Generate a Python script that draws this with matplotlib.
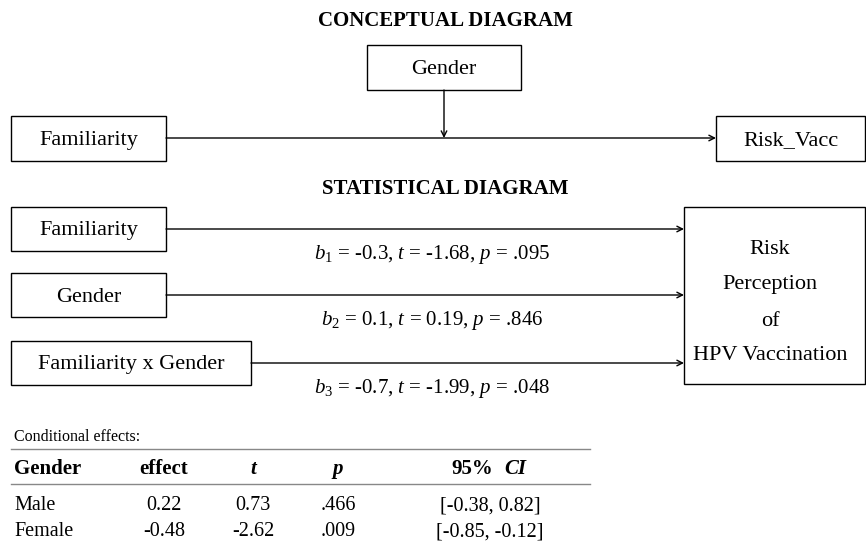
import matplotlib.pyplot as plt
from matplotlib.patches import Rectangle

plt.rcParams['font.family'] = ['Liberation Serif', 'DejaVu Serif']
plt.rcParams['mathtext.fontset'] = 'custom'
plt.rcParams['mathtext.rm'] = 'Liberation Serif'
plt.rcParams['mathtext.it'] = 'Liberation Serif:italic'
plt.rcParams['mathtext.bf'] = 'Liberation Serif:bold'

# path coefficients (statistical diagram)
predictors = ['Familiarity', 'Gender', 'Familiarity x Gender']
coef_b = ['-0.3', '0.1', '-0.7']
coef_t = ['-1.68', '0.19', '-1.99']
coef_p = ['.095', '.846', '.048']

# conditional effects table
cond_header = ['Gender', 'effect', 't', 'p', '95%', 'CI']
cond_group = ['Male', 'Female']
cond_effect = ['0.22', '-0.48']
cond_t = ['0.73', '-2.62']
cond_p = ['.466', '.009']
cond_ci = ['[-0.38, 0.82]', '[-0.85, -0.12]']

fig = plt.figure(figsize=(8.66, 5.42), dpi=100)
ax = fig.add_axes([0, 0, 1, 1])
ax.set_xlim(0, 866)
ax.set_ylim(542, 0)
ax.axis('off')

FS = 16
DY = 2  # small baseline nudge so text sits centred like the original


def box(x0, y0, x1, y1, label=None):
    ax.add_patch(Rectangle((x0, y0), x1 - x0, y1 - y0, fill=False, lw=1.0, ec='black'))
    if label:
        ax.text((x0 + x1) / 2, (y0 + y1) / 2 + DY, label, ha='center', va='center', fontsize=FS)


def arrow(x0, y0, x1, y1):
    ax.annotate('', xy=(x1, y1), xytext=(x0, y0),
                arrowprops=dict(arrowstyle='->', lw=1.0, color='black',
                                shrinkA=0, shrinkB=0, mutation_scale=10))


# conceptual diagram
ax.text(445, 21, 'CONCEPTUAL DIAGRAM', ha='center', va='center', fontsize=15, fontweight='bold')
box(367, 45, 521, 90, 'Gender')
box(11, 116, 166, 161, 'Familiarity')
box(716, 116, 865, 161, 'Risk_Vacc')
arrow(166, 138, 716, 138)
arrow(444, 90, 444, 138)

# statistical diagram
ax.text(445, 189, 'STATISTICAL DIAGRAM', ha='center', va='center', fontsize=15, fontweight='bold')
box_y = [(207, 251), (273, 317), (341, 385)]
box_right = [166, 166, 251]
label_y = [255, 321, 388]
for i, name in enumerate(predictors):
    y0, y1 = box_y[i]
    box(11, y0, box_right[i], y1, name)
    arrow(box_right[i], (y0 + y1) / 2, 684, (y0 + y1) / 2)
    ax.text(432, label_y[i],
            r'$b_{%d}$ = %s, $t$ = %s, $p$ = %s' % (i + 1, coef_b[i], coef_t[i], coef_p[i]),
            ha='center', va='center', fontsize=15)

box(684, 207, 865, 384)
for txt, yy in zip(['Risk', 'Perception', 'of', 'HPV Vaccination'], [247, 283, 319, 353]):
    ax.text(770, yy + DY, txt, ha='center', va='center', fontsize=FS)

# conditional effects
ax.text(14, 437, 'Conditional effects:', ha='left', va='center', fontsize=11.5)
ax.plot([11, 590], [449, 449], color='#888888', lw=1.0)
ax.plot([11, 590], [484, 484], color='#888888', lw=1.0)

col_x = [14, 164, 253, 338, 490]
col_ha = ['left', 'center', 'center', 'center', 'center']
TFS = 14.5
hy = 469
ax.text(col_x[0], hy, cond_header[0], ha='left', va='center', fontsize=TFS + 0.5, fontweight='bold')
ax.text(col_x[1], hy, cond_header[1], ha='center', va='center', fontsize=TFS + 0.5, fontweight='bold')
ax.text(col_x[2], hy, cond_header[2], ha='center', va='center', fontsize=TFS + 0.5,
        fontweight='bold', fontstyle='italic')
ax.text(col_x[3], hy, cond_header[3], ha='center', va='center', fontsize=TFS + 0.5,
        fontweight='bold', fontstyle='italic')
ax.text(col_x[4] - 18, hy, cond_header[4], ha='center', va='center', fontsize=TFS + 0.5,
        fontweight='bold')
ax.text(col_x[4] + 25, hy, cond_header[5], ha='center', va='center', fontsize=TFS + 0.5,
        fontweight='bold', fontstyle='italic')

row_y = [506, 532]
for r in range(len(cond_group)):
    vals = [cond_group[r], cond_effect[r], cond_t[r], cond_p[r], cond_ci[r]]
    for c, v in enumerate(vals):
        ax.text(col_x[c], row_y[r], v, ha=col_ha[c], va='center', fontsize=TFS)

fig.savefig('out.png', dpi=100)
